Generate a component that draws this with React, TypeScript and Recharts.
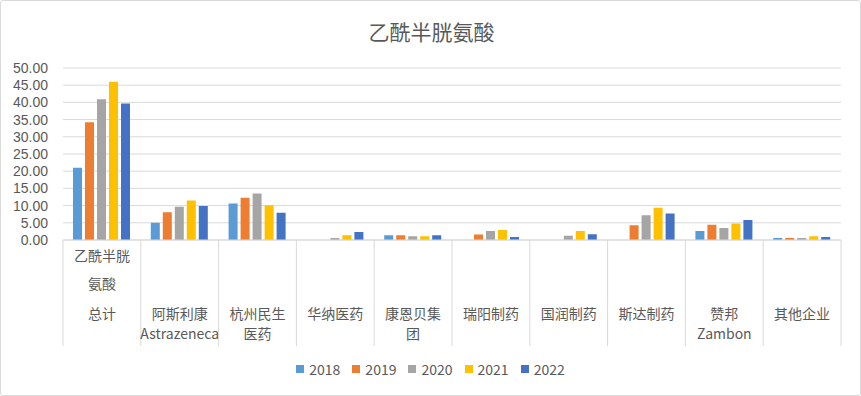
// Clustered bar chart: 乙酰半胱氨酸 by company, 2018-2022. Excel-like look.

import { Bar, BarChart, CartesianGrid, Legend, XAxis, YAxis } from "recharts";

const categories = [
  "乙酰半胱氨酸总计",
  "阿斯利康Astrazeneca",
  "杭州民生医药",
  "华纳医药",
  "康恩贝集团",
  "瑞阳制药",
  "国润制药",
  "斯达制药",
  "赞邦Zambon",
  "其他企业",
];
// how each category label wraps on the axis
const labelLines = [
  ["乙酰半胱", "氨酸", "总计"],
  ["阿斯利康", "Astrazeneca"],
  ["杭州民生", "医药"],
  ["华纳医药"],
  ["康恩贝集", "团"],
  ["瑞阳制药"],
  ["国润制药"],
  ["斯达制药"],
  ["赞邦", "Zambon"],
  ["其他企业"],
];
const years = ["2018", "2019", "2020", "2021", "2022"];
const v2018 = [21.0, 5.0, 10.6, 0, 1.4, 0, 0, 0, 2.6, 0.6];
const v2019 = [34.2, 8.1, 12.3, 0, 1.4, 1.6, 0, 4.3, 4.4, 0.6];
const v2020 = [40.9, 9.7, 13.5, 0.6, 1.1, 2.6, 1.2, 7.2, 3.5, 0.6];
const v2021 = [46.0, 11.5, 10.1, 1.4, 1.1, 2.9, 2.6, 9.4, 4.8, 1.1];
const v2022 = [39.7, 9.9, 7.9, 2.3, 1.4, 0.9, 1.7, 7.7, 5.8, 0.9];
const yTicks = [0, 5, 10, 15, 20, 25, 30, 35, 40, 45, 50];
const colors = ["#5B9BD5", "#ED7D31", "#A5A5A5", "#FFC000", "#4472C4"];

const series = [v2018, v2019, v2020, v2021, v2022];
const data = categories.map((name, i) => {
  const row: Record<string, string | number> = { name };
  years.forEach((y, k) => {
    row[y] = series[k][i];
  });
  return row;
});

const FONT = "'Noto Sans CJK SC', 'Noto Sans', sans-serif";
const NUM_FONT = "'Liberation Sans', Arial, sans-serif";
const TEXT = "#595959";
const GRID = "#d9d9d9";
const W = 861;
const H = 396;
const PLOT_LEFT = 63;
const PLOT_RIGHT = 841;
const PLOT_BOTTOM = 240;
const BAND = (PLOT_RIGHT - PLOT_LEFT) / categories.length;

function CategoryTick(props: any) {
  const { x, index } = props;
  const lines = labelLines[index] ?? [];
  const ys = lines.length === 3 ? [256, 284, 314] : [314, 334];
  const left = x - BAND / 2;
  return (
    <g>
      <line x1={left} x2={left} y1={PLOT_BOTTOM} y2={346} stroke={GRID} />
      {index === categories.length - 1 && (
        <line x1={left + BAND} x2={left + BAND} y1={PLOT_BOTTOM} y2={346} stroke={GRID} />
      )}
      {lines.map((t: string, k: number) => (
        <text
          key={k}
          x={x}
          y={ys[k]}
          dy="0.35em"
          textAnchor="middle"
          fill={TEXT}
          fontSize={14}
          fontFamily={FONT}
        >
          {t}
        </text>
      ))}
    </g>
  );
}

function LegendBox() {
  return (
    <div
      style={{
        display: "flex",
        justifyContent: "center",
        gap: 12,
        fontFamily: FONT,
        fontSize: 14,
        color: TEXT,
        lineHeight: "20px",
      }}
    >
      {years.map((y, k) => (
        <div key={y} style={{ display: "flex", alignItems: "center" }}>
          <span
            style={{
              display: "inline-block",
              width: 8,
              height: 8,
              background: colors[k],
              marginRight: 5,
            }}
          />
          {y}
        </div>
      ))}
    </div>
  );
}

export default function App() {
  return (
    <div
      style={{
        position: "absolute",
        left: 0,
        top: 0,
        width: W,
        height: H,
        background: "#fff",
        border: `1px solid ${GRID}`,
        borderRadius: 3,
        boxSizing: "border-box",
        overflow: "hidden",
      }}
    >
      <div
        style={{
          position: "absolute",
          top: 15,
          left: 0,
          width: W,
          textAlign: "center",
          fontFamily: FONT,
          fontSize: 21,
          color: TEXT,
          lineHeight: "30px",
        }}
      >
        乙酰半胱氨酸
      </div>
      <div style={{ position: "absolute", left: -1, top: -1 }}>
        <BarChart
          width={W}
          height={H}
          data={data}
          margin={{ top: 68, right: W - PLOT_RIGHT, left: 0, bottom: 0 }}
          barCategoryGap={10}
          barGap={3}
        >
          <CartesianGrid vertical={false} stroke={GRID} strokeWidth={1} />
          <YAxis
            width={PLOT_LEFT}
            domain={[0, 50]}
            ticks={yTicks}
            interval={0}
            axisLine={false}
            tickLine={false}
            tickSize={0}
            tickMargin={15}
            tickFormatter={(v: number) => v.toFixed(2)}
            tick={{ fill: TEXT, fontSize: 14, fontFamily: NUM_FONT }}
          />
          <XAxis
            dataKey="name"
            height={H - PLOT_BOTTOM}
            interval={0}
            axisLine={{ stroke: GRID }}
            tickLine={false}
            tick={<CategoryTick />}
          />
          <Legend
            layout="horizontal"
            verticalAlign="middle"
            align="center"
            wrapperStyle={{ top: 359, left: 0, width: W }}
            content={<LegendBox />}
          />
          {years.map((y, k) => (
            <Bar key={y} dataKey={y} fill={colors[k]} isAnimationActive={false} />
          ))}
        </BarChart>
      </div>
    </div>
  );
}
